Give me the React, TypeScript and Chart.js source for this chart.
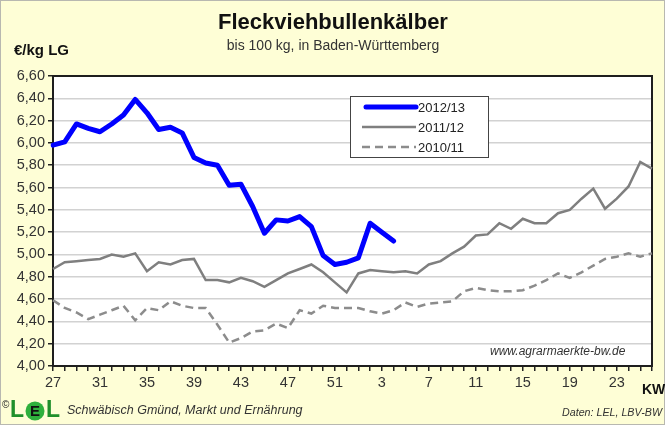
import React, { useEffect, useRef } from "react";
import { Chart, registerables } from "chart.js";

Chart.register(...registerables);

const weeks: string[] = [
  "27","28","29","30","31","32","33","34","35","36","37","38","39","40","41","42","43","44","45","46","47","48","49","50","51","52",
  "1","2","3","4","5","6","7","8","9","10","11","12","13","14","15","16","17","18","19","20","21","22","23","24","25","26",
];

const series2012: (number | null)[] = [
  5.98, 6.01, 6.17, 6.13, 6.10, 6.17, 6.25, 6.39, 6.27, 6.12, 6.14, 6.09, 5.87, 5.82, 5.80, 5.62, 5.63, 5.43, 5.19, 5.31,
  5.30, 5.34, 5.25, 4.99, 4.91, 4.93, 4.97, 5.28, 5.20, 5.12,
];

const series2011: number[] = [
  4.87, 4.93, 4.94, 4.95, 4.96, 5.00, 4.98, 5.01, 4.85, 4.93, 4.91, 4.95, 4.96, 4.77, 4.77, 4.75, 4.79, 4.76, 4.71, 4.77,
  4.83, 4.87, 4.91, 4.84, 4.75, 4.66, 4.83, 4.86, 4.85, 4.84, 4.85, 4.83, 4.91, 4.94, 5.01, 5.07, 5.17, 5.18, 5.28, 5.23,
  5.32, 5.28, 5.28, 5.37, 5.40, 5.50, 5.59, 5.41, 5.50, 5.61, 5.83, 5.77,
];

const series2010: number[] = [
  4.59, 4.52, 4.48, 4.42, 4.46, 4.50, 4.54, 4.41, 4.52, 4.50, 4.58, 4.54, 4.52, 4.52, 4.37, 4.21, 4.25, 4.31, 4.32, 4.38,
  4.34, 4.50, 4.47, 4.54, 4.52, 4.52, 4.52, 4.49, 4.47, 4.50, 4.57, 4.53, 4.56, 4.57, 4.58, 4.67, 4.70, 4.68, 4.67, 4.67,
  4.68, 4.72, 4.77, 4.83, 4.79, 4.84, 4.90, 4.96, 4.98, 5.01, 4.98, 5.01,
];

const seriesNames: string[] = ["2012/13", "2011/12", "2010/11"];
const yTickValues: number[] = [4.0, 4.2, 4.4, 4.6, 4.8, 5.0, 5.2, 5.4, 5.6, 5.8, 6.0, 6.2, 6.4, 6.6];

const FONT = "'Liberation Sans', Arial, sans-serif";

const decorPlugin = {
  id: "decor",
  beforeDraw(chart: any) {
    const { ctx, chartArea, width, height } = chart;
    ctx.save();
    ctx.fillStyle = "#fefed6";
    ctx.fillRect(0, 0, width, height);
    ctx.strokeStyle = "#b8b8b0";
    ctx.lineWidth = 1;
    ctx.strokeRect(0.5, 0.5, width - 1, height - 1);
    ctx.fillStyle = "#ffffff";
    ctx.fillRect(chartArea.left, chartArea.top, chartArea.right - chartArea.left, chartArea.bottom - chartArea.top);
    ctx.restore();
  },
  beforeDatasetsDraw(chart: any) {
    const { ctx, chartArea } = chart;
    ctx.save();
    ctx.strokeStyle = "#1e1e1e";
    ctx.lineWidth = 2;
    ctx.strokeRect(chartArea.left, chartArea.top, chartArea.right - chartArea.left, chartArea.bottom - chartArea.top);
    ctx.restore();
  },
  afterDatasetsDraw(chart: any) {
    const { ctx } = chart;
    ctx.save();
    const bx = 350, by = 96, bw = 138, bh = 61;
    ctx.fillStyle = "#ffffff";
    ctx.fillRect(bx, by, bw, bh);
    ctx.strokeStyle = "#444";
    ctx.lineWidth = 1;
    ctx.strokeRect(bx + 0.5, by + 0.5, bw, bh);
    const ds = chart.data.datasets;
    const rows = [107, 127, 147];
    for (let i = 0; i < ds.length; i++) {
      const y = rows[i];
      ctx.beginPath();
      ctx.strokeStyle = ds[i].borderColor;
      ctx.lineWidth = ds[i].borderWidth;
      ctx.lineCap = i === 0 ? "round" : "butt";
      ctx.setLineDash(ds[i].borderDash || []);
      ctx.moveTo(i === 0 ? 366 : 362, y);
      ctx.lineTo(416, y);
      ctx.stroke();
      ctx.setLineDash([]);
      ctx.fillStyle = "#222";
      ctx.font = `13px ${FONT}`;
      ctx.textAlign = "left";
      ctx.textBaseline = "middle";
      ctx.fillText(ds[i].label, 418, y + 1);
    }
    ctx.fillStyle = "#333";
    ctx.font = `italic 12px ${FONT}`;
    ctx.textAlign = "left";
    ctx.textBaseline = "middle";
    ctx.fillText("www.agrarmaerkte-bw.de", 490, 352);
    ctx.restore();
  },
  afterDraw(chart: any) {
    const { ctx, width } = chart;
    ctx.save();
    ctx.fillStyle = "#111";
    ctx.textAlign = "center";
    ctx.textBaseline = "middle";
    ctx.font = `bold 22px ${FONT}`;
    ctx.fillText("Fleckviehbullenkälber", 333, 23);
    ctx.fillStyle = "#333";
    ctx.font = `14px ${FONT}`;
    ctx.fillText("bis 100 kg, in Baden-Württemberg", 333, 46);
    ctx.fillStyle = "#111";
    ctx.textAlign = "left";
    ctx.font = `bold 15px ${FONT}`;
    ctx.fillText("€/kg LG", 14, 51);
    ctx.font = `bold 14px ${FONT}`;
    ctx.fillText("KW", 642, 390);
    ctx.font = `10px ${FONT}`;
    ctx.fillStyle = "#222";
    ctx.fillText("©", 2, 405);
    ctx.font = `bold 23px ${FONT}`;
    ctx.fillStyle = "#1f8f2a";
    ctx.fillText("L", 10, 411);
    ctx.beginPath();
    ctx.fillStyle = "#2eb03c";
    ctx.arc(35, 411, 9.5, 0, Math.PI * 2);
    ctx.fill();
    ctx.fillStyle = "#111";
    ctx.font = `bold 15px ${FONT}`;
    ctx.textAlign = "center";
    ctx.fillText("E", 35, 412);
    ctx.textAlign = "left";
    ctx.font = `bold 23px ${FONT}`;
    ctx.fillStyle = "#1f8f2a";
    ctx.fillText("L", 46, 411);
    ctx.fillStyle = "#333";
    ctx.font = `italic 12.5px ${FONT}`;
    ctx.fillText("Schwäbisch Gmünd, Markt und Ernährung", 67, 411, 238);
    ctx.textAlign = "right";
    ctx.font = `italic 11px ${FONT}`;
    ctx.fillText("Daten: LEL, LBV-BW", width - 3, 413, 100);
    ctx.restore();
  },
};

export default function App() {
  const ref = useRef<HTMLCanvasElement>(null);
  useEffect(() => {
    if (!ref.current) return;
    const chart = new Chart(ref.current, {
      type: "line",
      data: {
        labels: weeks,
        datasets: [
          {
            label: seriesNames[0],
            data: series2012,
            borderColor: "#0000ff",
            borderWidth: 5,
            pointRadius: 0,
            tension: 0,
            borderJoinStyle: "round",
            borderCapStyle: "round",
          },
          {
            label: seriesNames[1],
            data: series2011,
            borderColor: "#7f7f7f",
            borderWidth: 2.5,
            pointRadius: 0,
            tension: 0,
          },
          {
            label: seriesNames[2],
            data: series2010,
            borderColor: "#8c8c8c",
            borderWidth: 2.5,
            borderDash: [8, 5],
            pointRadius: 0,
            tension: 0,
          },
        ] as any,
      },
      options: {
        animation: false,
        responsive: false,
        maintainAspectRatio: false,
        layout: { padding: { top: 76, right: 13, bottom: 34, left: 0 } },
        plugins: { legend: { display: false }, title: { display: false }, tooltip: { enabled: false } },
        scales: {
          x: {
            type: "category",
            offset: false,
            afterFit: (s: any) => { s.height = 25; },
            border: { display: false },
            grid: { drawOnChartArea: false, drawTicks: true, tickLength: 5, tickColor: "#222", lineWidth: 1.5 },
            ticks: {
              autoSkip: false,
              maxRotation: 0,
              minRotation: 0,
              padding: 3,
              color: "#333",
              font: { family: FONT, size: 14.5 },
              callback: (_v: any, i: number) => (i % 4 === 0 ? weeks[i] : ""),
            },
          },
          y: {
            min: yTickValues[0],
            max: yTickValues[yTickValues.length - 1],
            afterFit: (s: any) => { s.width = 53; },
            afterBuildTicks: (s: any) => { s.ticks = yTickValues.map((v) => ({ value: v })); },
            border: { display: false },
            grid: { color: "#d2d2d2", lineWidth: 1.5, drawTicks: true, tickLength: 5, tickColor: "#222" },
            ticks: {
              padding: 3,
              color: "#333",
              font: { family: FONT, size: 14.5 },
              callback: (v: any) => Number(v).toFixed(2).replace(".", ","),
            },
          },
        },
      },
      plugins: [decorPlugin],
    } as any);
    return () => chart.destroy();
  }, []);
  return (
    <div style={{ position: "fixed", left: 0, top: 0, width: 665, height: 425 }}>
      <canvas ref={ref} width={665} height={425} style={{ width: 665, height: 425, display: "block" }} />
    </div>
  );
}
